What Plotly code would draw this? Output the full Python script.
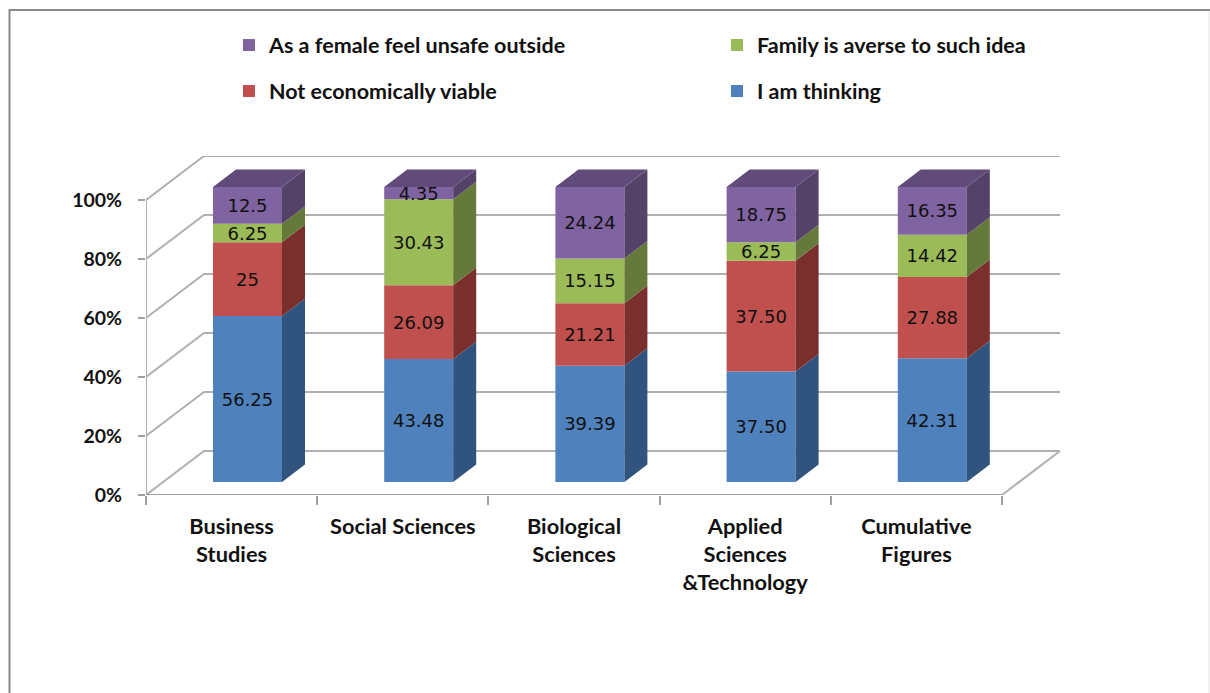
import numpy as np
import plotly.graph_objects as go

categories = ['Business<br>Studies', 'Social Sciences', 'Biological<br>Sciences',
              'Applied<br>Sciences<br>&Technology', 'Cumulative<br>Figures']

series_names = ['I am thinking', 'Not economically viable',
                'Family is averse to such idea', 'As a female feel unsafe outside']

thinking = [56.25, 43.48, 39.39, 37.50, 42.31]
not_viable = [25, 26.09, 21.21, 37.50, 27.88]
family = [6.25, 30.43, 15.15, 6.25, 14.42]
unsafe = [12.5, 4.35, 24.24, 18.75, 16.35]

thinking_labels = ['56.25', '43.48', '39.39', '37.50', '42.31']
not_viable_labels = ['25', '26.09', '21.21', '37.50', '27.88']
family_labels = ['6.25', '30.43', '15.15', '6.25', '14.42']
unsafe_labels = ['12.5', '4.35', '24.24', '18.75', '16.35']

y_ticks = [0, 20, 40, 60, 80, 100]
y_tick_labels = ['0%', '20%', '40%', '60%', '80%', '100%']

front_colors = ['#4f81bd', '#c0504d', '#9bbb59', '#8064a2']
side_colors = ['#31547f', '#7a2f2d', '#657a3a', '#544268']
top_color = '#604b7a'
grid_color = '#b0b0b0'
axis_color = '#a0a0a0'
text_color = '#111111'
font_bold = 'Lato'
font_plain = 'DejaVu Sans'

W, H = 1210, 693
# pixels of the drawing box
left, right, top, bottom = 146, 1061, 156, 495
px_per_cat = 171.2
px_per_pct = 2.95

# fake 3d offsets, in axis units
wall_dx, wall_dy = 58 / px_per_cat, 44 / px_per_pct
bar_dx, bar_dy = 23 / px_per_cat, 17.5 / px_per_pct
bar_lift = 13 / px_per_pct
bar_width = 69 / px_per_cat
bar_center = 101.5 / px_per_cat


def px_x(p):
    return p / W


def px_y(p):
    return 1 - p / H


values = np.array([thinking, not_viable, family, unsafe], dtype=float)
# Excel 100% stacked: every column is normalised to its own total
shares = values / values.sum(axis=0) * 100
bases = np.vstack([np.zeros(5), np.cumsum(shares, axis=0)[:-1]]) + bar_lift
labels = [thinking_labels, not_viable_labels, family_labels, unsafe_labels]
centers = np.arange(5) + bar_center

fig = go.Figure()

legend_ids = ['legend4', 'legend3', 'legend2', 'legend']
for s, name in enumerate(series_names):
    fig.add_trace(go.Bar(
        x=centers,
        y=shares[s],
        base=bases[s],
        width=bar_width,
        name=name,
        marker=dict(color=front_colors[s], line=dict(width=0)),
        text=labels[s],
        textposition='inside',
        insidetextanchor='middle',
        textangle=0,
        constraintext='none',
        textfont=dict(family=font_plain, size=18, color=text_color),
        legend=legend_ids[s],
    ))

# right hand sides of the columns
for s in range(4):
    xs, ys = [], []
    for c in range(5):
        x1 = centers[c] + bar_width / 2
        y0, y1 = bases[s][c], bases[s][c] + shares[s][c]
        xs += [x1, x1 + bar_dx, x1 + bar_dx, x1, x1, None]
        ys += [y0, y0 + bar_dy, y1 + bar_dy, y1, y0, None]
    fig.add_trace(go.Scatter(x=xs, y=ys, mode='lines', fill='toself', fillcolor=side_colors[s],
                             line=dict(width=0), hoverinfo='skip', showlegend=False))

# top faces
xs, ys = [], []
for c in range(5):
    x0, x1 = centers[c] - bar_width / 2, centers[c] + bar_width / 2
    y1 = bases[3][c] + shares[3][c]
    xs += [x0, x1, x1 + bar_dx, x0 + bar_dx, x0, None]
    ys += [y1, y1, y1 + bar_dy, y1 + bar_dy, y1, None]
fig.add_trace(go.Scatter(x=xs, y=ys, mode='lines', fill='toself', fillcolor=top_color,
                         line=dict(width=0), hoverinfo='skip', showlegend=False))

shapes = []
for v in y_ticks:
    shapes.append(dict(type='path', xref='x', yref='y', layer='below',
                       path=f'M0,{v} L{wall_dx},{v + wall_dy} L{5 + wall_dx},{v + wall_dy}',
                       line=dict(color=grid_color, width=2)))
shapes.append(dict(type='line', xref='x', yref='y', layer='below', x0=5, y0=0,
                   x1=5 + wall_dx, y1=wall_dy, line=dict(color=grid_color, width=2)))
shapes.append(dict(type='line', xref='x', yref='y', layer='below', x0=0, y0=0, x1=5, y1=0,
                   line=dict(color=axis_color, width=2)))
shapes.append(dict(type='line', xref='x', yref='y', layer='below', x0=0, y0=0, x1=0, y1=100,
                   line=dict(color=grid_color, width=2)))

# picture frame
shapes.append(dict(type='path', xref='paper', yref='paper', layer='below',
                   path=f'M{px_x(9.5)},0 L{px_x(9.5)},{px_y(10)} L1,{px_y(10)}',
                   line=dict(color='#8a8a8a', width=2)))
shapes.append(dict(type='line', xref='paper', yref='paper', layer='below', x0=px_x(1209), x1=px_x(1209),
                   y0=0, y1=px_y(11), line=dict(color='#e4e4e4', width=1)))

legend_font = dict(family=font_bold, size=21.5, color=text_color, weight='bold')


def legend_at(x, y):
    return dict(x=px_x(x), y=px_y(y), xanchor='left', yanchor='middle', font=legend_font,
                bgcolor='rgba(0,0,0,0)', indentation=-9)


fig.update_layout(
    width=W,
    height=H,
    margin=dict(l=0, r=0, t=0, b=0, autoexpand=False),
    paper_bgcolor='white',
    plot_bgcolor='white',
    barmode='overlay',
    shapes=shapes,
    xaxis=dict(
        domain=[px_x(left), px_x(right)],
        range=[0, (right - left) / px_per_cat],
        automargin=False,
        tickmode='array',
        tickvals=list(np.arange(5) + 0.5),
        ticktext=categories,
        ticks='',
        tickangle=0,
        ticklabelstandoff=16,
        showgrid=False,
        zeroline=False,
        showline=False,
        tickfont=dict(family=font_bold, size=21.8, color=text_color, weight='bold'),
        minor=dict(tickmode='array', tickvals=list(range(6)), ticks='outside', ticklen=9,
                   tickcolor=axis_color, tickwidth=2, showgrid=False),
    ),
    yaxis=dict(
        domain=[px_y(bottom), px_y(top)],
        range=[0, (bottom - top) / px_per_pct],
        automargin=False,
        tickmode='array',
        tickvals=y_ticks,
        ticktext=y_tick_labels,
        ticks='outside',
        ticklen=7,
        tickwidth=2,
        tickcolor=axis_color,
        ticklabelstandoff=12,
        showgrid=False,
        zeroline=False,
        showline=False,
        tickfont=dict(family=font_bold, size=19.5, color=text_color, weight='bold'),
    ),
    legend=legend_at(238, 45),
    legend2=legend_at(726, 45),
    legend3=legend_at(238, 91),
    legend4=legend_at(726, 91),
)

# the page's default body margin would push the figure 8px in
fig.write_html("out.html", config=dict(displayModeBar=False),
               post_script="document.body.style.margin = '0';")
